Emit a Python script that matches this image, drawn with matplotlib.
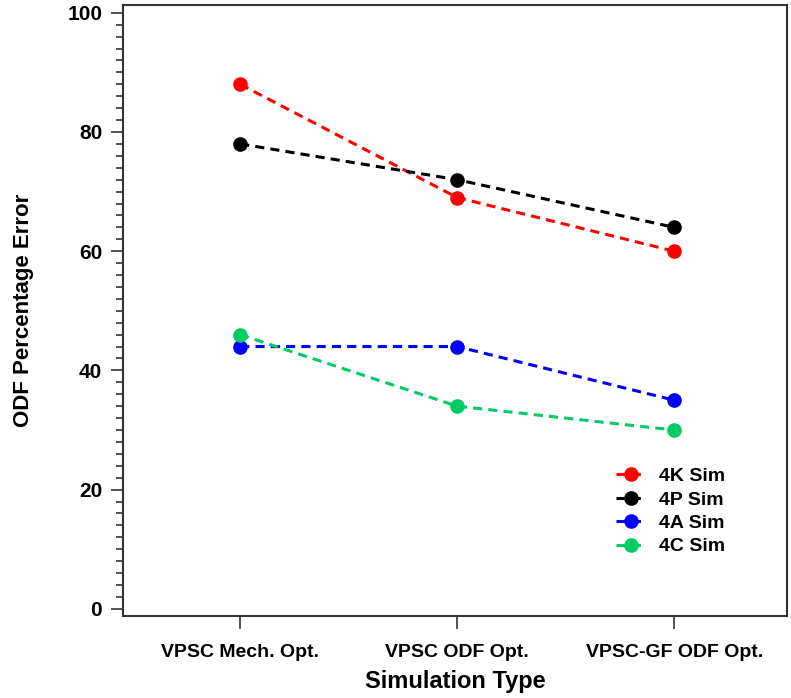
import numpy as np
import matplotlib
matplotlib.use("Agg")
import matplotlib.pyplot as plt
from matplotlib.ticker import MultipleLocator

plt.rcParams["font.family"] = ["Liberation Sans", "DejaVu Sans"]
plt.rcParams["font.weight"] = "bold"

categories = ["VPSC Mech. Opt.", "VPSC ODF Opt.", "VPSC-GF ODF Opt."]
sim_4k = [88, 69, 60]
sim_4p = [78, 72, 64]
sim_4a = [44, 44, 35]
sim_4c = [46, 34, 30]

series = [
    ("4K Sim", sim_4k, "#ff0000"),
    ("4P Sim", sim_4p, "#000000"),
    ("4A Sim", sim_4a, "#0000ff"),
    ("4C Sim", sim_4c, "#00cc66"),
]

fig = plt.figure(figsize=(7.91, 6.98), dpi=100)
ax = fig.add_axes([0.1555, 0.1175, 0.8395, 0.8753])

x = np.arange(len(categories))
for name, vals, col in series:
    ax.plot(x, vals, color=col, ls=(0, (3, 2)), lw=2.2, marker="o",
            markersize=9.5, label=name)

ax.set_xlim(-0.54, 2.52)
ax.set_ylim(-1.2, 101.3)
ax.set_xticks(x)
ax.set_xticklabels(categories, fontsize=14, fontweight="bold")
ax.yaxis.set_major_locator(MultipleLocator(20))
ax.yaxis.set_minor_locator(MultipleLocator(2))
ax.tick_params(axis="y", which="major", direction="out", length=9, width=1.2,
               pad=6, labelsize=15, colors="#333333", labelcolor="black")
ax.tick_params(axis="y", which="minor", direction="out", length=5, width=1.2,
               colors="#333333")
ax.tick_params(axis="x", which="major", direction="out", length=9, width=1.2,
               pad=11, colors="#333333", labelcolor="black")
for lab in ax.get_yticklabels():
    lab.set_fontweight("bold")

for sp in ax.spines.values():
    sp.set_color("#333333")
    sp.set_linewidth(1.5)

ax.set_xlabel("Simulation Type", fontsize=17, fontweight="bold", labelpad=7)
ax.set_ylabel("ODF Percentage Error", fontsize=16, fontweight="bold", labelpad=24)

leg = ax.legend(loc="upper left", bbox_to_anchor=(0.7425, 0.243), frameon=False,
                fontsize=14, handlelength=1.5, labelspacing=0.3,
                handletextpad=0.7, borderpad=0, borderaxespad=0)
for t in leg.get_texts():
    t.set_fontweight("bold")

fig.savefig("out.png", dpi=100)
